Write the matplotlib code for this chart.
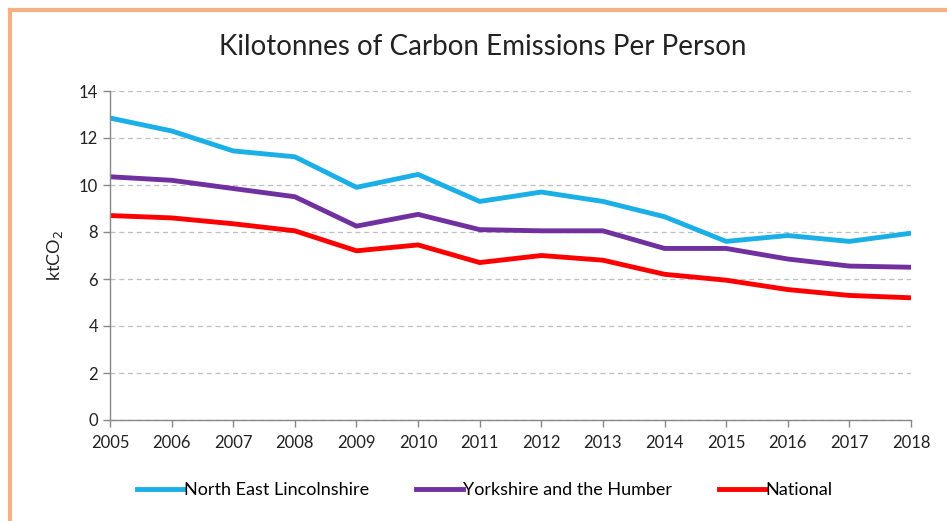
import matplotlib
matplotlib.use("Agg")
import matplotlib.pyplot as plt
from matplotlib.lines import Line2D

years = list(range(2005, 2019))
nel = [12.85, 12.3, 11.45, 11.2, 9.9, 10.45, 9.3, 9.7, 9.3, 8.65, 7.6, 7.85, 7.6, 7.95]
yorks = [10.35, 10.2, 9.85, 9.5, 8.25, 8.75, 8.1, 8.05, 8.05, 7.3, 7.3, 6.85, 6.55, 6.5]
national = [8.7, 8.6, 8.35, 8.05, 7.2, 7.45, 6.7, 7.0, 6.8, 6.2, 5.95, 5.55, 5.3, 5.2]
series_names = ["North East Lincolnshire", "Yorkshire and the Humber", "National"]
colors = ["#1AAFE6", "#7030A0", "#FF0000"]

plt.rcParams['font.family'] = ['Lato', 'DejaVu Sans']

W, H = 947, 521
fig = plt.figure(figsize=(W / 100, H / 100), dpi=100)
ax = fig.add_axes([110 / W, 1 - 420 / H, (911 - 110) / W, (420 - 91) / H])

for vals, c, n in zip([nel, yorks, national], colors, series_names):
    ax.plot(years, vals, color=c, lw=3.5, label=n, solid_capstyle='butt')

ax.set_xlim(2005, 2018)
ax.set_ylim(0, 14)
ax.set_xticks(years)
ax.set_xticklabels([str(y) for y in years], fontsize=12, color="#222222")
ax.set_yticks(range(0, 15, 2))
ax.set_yticklabels([str(v) for v in range(0, 15, 2)], fontsize=12, color="#222222")
ax.grid(axis='y', linestyle=(0, (4, 3)), color="#BFBFBF", lw=0.9)
ax.set_axisbelow(True)
for s in ['top', 'right']:
    ax.spines[s].set_visible(False)
for s in ['left', 'bottom']:
    ax.spines[s].set_color("#888888")
    ax.spines[s].set_linewidth(1.0)
ax.tick_params(axis='both', direction='out', length=5, color="#888888", width=1.0)
ax.tick_params(axis='x', pad=6)
ax.set_ylabel("ktCO$_2$", fontsize=13, color="#222222", labelpad=10)

fig.text(483 / W, 1 - 47 / H, "Kilotonnes of Carbon Emissions Per Person",
         ha='center', va='center', fontsize=20, color="#222222")

handles = [Line2D([0], [0], color=c, lw=3.5) for c in colors]
fig.legend(handles, series_names, loc='center', bbox_to_anchor=(485 / W, 1 - 490 / H),
           ncol=3, frameon=False, fontsize=13, handlelength=2.6, handletextpad=0.0,
           columnspacing=2.6)

# orange frame
fig.add_artist(Line2D([10 / W, 10 / W], [0, 1 - 10 / H], color="#F4B183", lw=3,
                      transform=fig.transFigure))
fig.add_artist(Line2D([10 / W, 1], [1 - 10 / H, 1 - 10 / H], color="#F4B183", lw=3,
                      transform=fig.transFigure))

fig.savefig("out.png", dpi=100)
